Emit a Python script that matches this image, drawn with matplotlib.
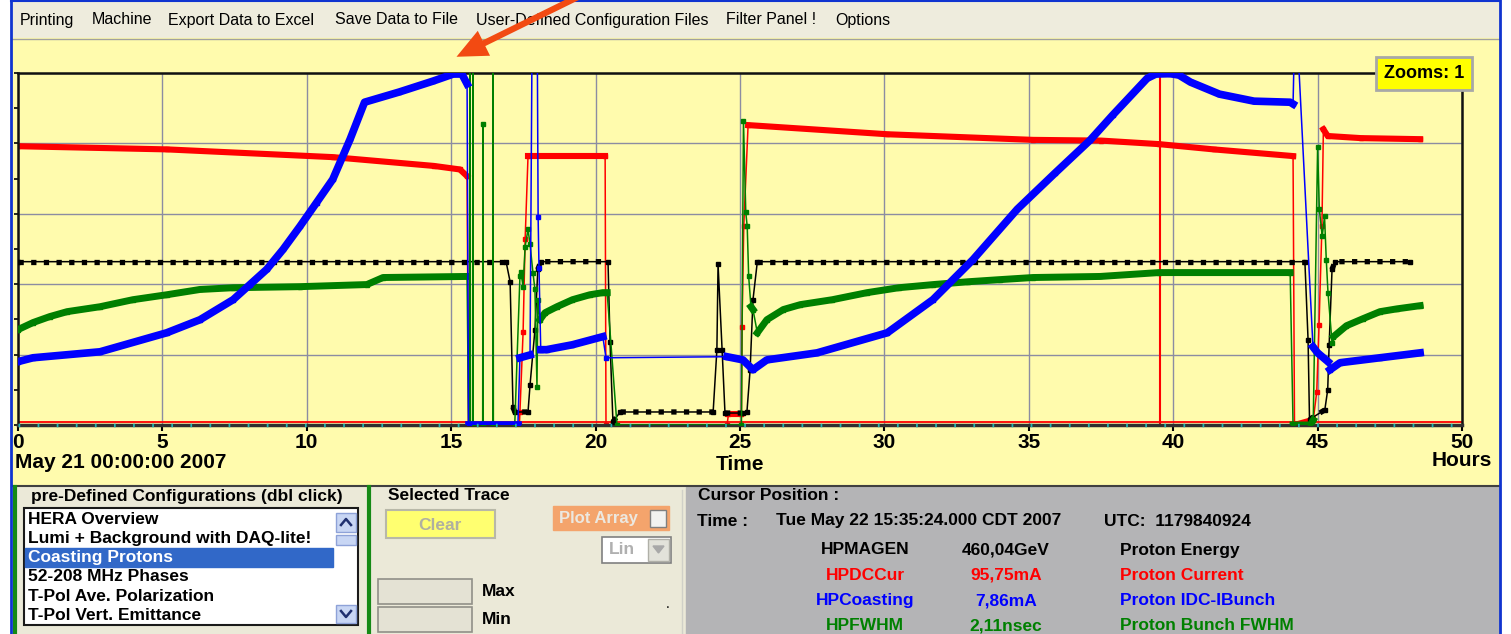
import numpy as np
import matplotlib
matplotlib.use('Agg')
import matplotlib.pyplot as plt
from matplotlib.patches import Rectangle, FancyArrowPatch

plt.rcParams['font.family'] = ['Liberation Sans', 'DejaVu Sans']

# traces: hours since May 21 00:00:00 2007, value in % of trace full scale
red_h = [0, 5.15, 10.9, 14.4, 15.3, 15.55, 15.6, 17.36, 17.38, 17.49, 17.56, 17.66,
         20.33, 20.36, 24.55, 24.6, 25.05, 25.07, 25.13, 25.28,
         30.1, 35.15, 37.5, 39.5, 41.4, 44.15, 44.2,
         44.85, 44.97, 45.05, 45.15, 45.2, 45.35, 46.5, 48.55]
red_v = [79.2, 78.3, 76.1, 73.6, 72.6, 70.7, 0, 0, 3.7, 26.5, 52.7, 76.4,
         76.4, 0, 0, 3.0, 3.0, 27.9, 56.4, 85.2,
         82.6, 81.0, 80.8, 79.8, 78.3, 76.4, 0,
         1.5, 9.4, 28.5, 56.4, 84.0, 82.1, 81.5, 81.2]
red_gaps = [(20.36, 24.55)]

blue_h = [0, 0.52, 2.84, 5.15, 6.3, 7.45, 8.03, 8.61, 9.18, 9.76, 10.34, 10.9, 11.5, 12.0,
          13.2, 14.37, 15.07, 15.37, 15.55, 15.6,
          17.31, 17.38, 17.73, 17.8, 17.98, 18.01, 18.04, 18.1, 18.3, 19.2, 20.25, 20.36, 24.55,
          25.1, 25.45, 25.93, 27.67, 30.1, 31.68, 33.07, 34.6, 35.9, 37.12, 37.9, 39.1, 39.4,
          39.9, 40.2, 40.6, 41.6, 42.8, 44.05, 44.15,
          44.2, 44.3, 44.84, 45.0, 45.36, 45.43, 45.78, 47.16, 48.55]
blue_v = [18.0, 19.1, 20.8, 26.2, 29.9, 35.6, 39.9, 44.2, 49.9, 56.4, 63.2, 69.8, 81.2, 91.7,
          94.6, 97.7, 99.7, 99.7, 96.9, 0,
          0, 19.1, 19.9, 110, 110, 59.0, 44.7, 21.4, 21.4, 22.8, 25.1, 19.1, 19.4,
          18.5, 15.7, 18.5, 20.5, 26.2, 35.6, 47.0, 61.3, 71.5, 80.9, 88.0, 98.5, 99.7,
          99.8, 99.4, 97.4, 94.0, 92.0, 91.7, 91.2,
          110, 110, 22.2, 20.5, 18.0, 15.7, 17.7, 19.1, 20.5]
blue_gaps = [(20.36, 24.55)]

black_h = [0, 16.9, 17.04, 17.14, 17.2, 17.66, 17.73, 17.9, 18.0, 18.1,
           20.43, 20.5, 20.6, 20.85, 24.07, 24.2, 24.24, 24.38, 24.48, 25.1,
           25.24, 25.35, 25.45, 25.6, 44.56, 44.67, 44.72, 44.8, 45.25, 45.35,
           45.4, 45.5, 45.6, 48.2]
black_v = [46.4, 46.4, 40.7, 5.1, 3.7, 3.7, 11.4, 27.1, 44.2, 46.4,
           46.4, 23.6, 0.9, 3.7, 3.7, 21.4, 45.6, 21.4, 3.4, 3.4,
           3.7, 15.7, 35.6, 46.4, 46.4, 24.2, 1.4, 2.0, 4.3, 10.0,
           22.8, 44.2, 46.4, 46.4]

green_h = [0, 0.52, 1.1, 1.7, 2.84, 3.98, 5.15, 6.3, 7.45, 9.76, 12.08, 12.64, 15.55, 15.6,
           15.64, 15.65, 15.66, 15.74, 15.75, 15.76, 16.09, 16.1, 16.11, 16.44, 16.45, 16.46,
           17.2, 17.38, 17.41, 17.49, 17.56, 17.66, 17.73, 17.83, 17.9, 17.97, 18.0, 18.07,
           18.25, 18.66, 19.2, 19.8, 20.25, 20.4, 20.74,
           25.05, 25.12, 25.2, 25.25, 25.3, 25.38, 25.45, 25.6, 25.93, 26.5, 27.09, 28.2,
           29.4, 30.5, 31.7, 32.9, 34.0, 35.15, 37.47, 39.5, 44.05, 44.15,
           44.75, 44.85, 45.0, 45.06, 45.16, 45.24, 45.3, 45.36, 45.5, 45.55, 46.0, 46.57,
           47.16, 47.75, 48.55]
green_v = [27.1, 29.1, 30.8, 32.2, 33.6, 35.6, 37.0, 38.5, 39.0, 39.3, 39.9, 41.9, 42.2, 0,
           0, 110, 0, 0, 110, 0, 0, 85.5, 0, 0, 110, 0,
           0, 42.2, 43.6, 39.3, 50.7, 55.6, 51.3, 43.3, 38.5, 10.8, 35.6, 29.9,
           31.9, 33.6, 35.6, 37.0, 37.6, 37.6, 0,
           0, 86.3, 60.4, 56.4, 42.2, 33.6, 32.8, 26.2, 29.9, 32.8, 34.2, 35.6,
           37.6, 39.0, 39.9, 40.7, 41.3, 41.9, 42.2, 43.3, 43.3, 0,
           0, 1.4, 78.9, 61.3, 53.6, 59.3, 47.0, 37.6, 23.4, 25.1, 28.2, 30.2,
           32.2, 33.0, 33.9]
green_gaps = [(20.74, 25.05)]

cursor_hour = 39.54
hour_ticks = list(range(0, 51, 5))

menu_items = ['Printing', 'Machine', 'Export Data to Excel', 'Save Data to File',
              'User-Defined Configuration Files', 'Filter Panel !', 'Options']
menu_x = [20, 92, 168, 335, 476, 726, 835]

configs = ['HERA Overview', 'Lumi + Background with DAQ-lite!', 'Coasting Protons',
           '52-208 MHz Phases', 'T-Pol Ave. Polarization', 'T-Pol Vert. Emittance']
selected_config = 2

cursor_names = ['HPMAGEN', 'HPDCCur', 'HPCoasting', 'HPFWHM']
cursor_values = ['460,04GeV', '95,75mA', '7,86mA', '2,11nsec']
cursor_desc = ['Proton Energy', 'Proton Current', 'Proton IDC-IBunch', 'Proton Bunch FWHM']
cursor_colors = ['black', '#ff0000', '#0000ff', '#008000']

W, H = 1511, 634
PLOT = (18, 73, 1462, 425)  # left, top, right, bottom in pixels
YELLOW = '#fffbad'
FS = 12.5  # panel text size

fig = plt.figure(figsize=(W / 100, H / 100), dpi=100)
fig.patch.set_facecolor('white')

gui = fig.add_axes([0, 0, 1, 1], zorder=0)
gui.set_xlim(0, W)
gui.set_ylim(H, 0)
gui.axis('off')

# window panels
gui.add_patch(Rectangle((12, 0), 1488, 38, color='#eeecdd'))
gui.add_patch(Rectangle((12, 38), 1488, 448, color=YELLOW))
gui.plot([12, 1500], [38.5, 38.5], color='#a0a0a0', lw=1)
gui.plot([12, 1500], [486, 486], color='#404040', lw=1.5)
gui.add_patch(Rectangle((14, 487), 356, 147, color='#ebe9d8'))
gui.add_patch(Rectangle((370, 487), 316, 147, color='#ebe9d8'))
gui.add_patch(Rectangle((686, 487), 814, 147, color='#b4b4b6'))
gui.plot([682, 682], [490, 634], color='#d0d0c8', lw=1)
for gx in (14.5, 368.5):
    gui.plot([gx, gx], [487, 634], color='#168a16', lw=3)
for bx in (11, 1500):
    gui.plot([bx, bx], [0, H], color='#1034d0', lw=2)
gui.plot([11, 1500], [0.5, 0.5], color='#1034d0', lw=1.5)

for label, x in zip(menu_items, menu_x):
    gui.text(x, 20, label, fontsize=11.5, va='center', ha='left')

# axis captions
gui.text(15, 462, 'May 21 00:00:00 2007', fontsize=15, fontweight='bold', va='center', ha='left')
gui.text(740, 464, 'Time', fontsize=15, fontweight='bold', va='center', ha='center')
gui.text(1462, 461, 'Hours', fontsize=15, fontweight='bold', va='center', ha='center')

# configuration list
gui.text(31, 496, 'pre-Defined Configurations (dbl click)', fontsize=FS,
         fontweight='bold', va='center', ha='left')
gui.add_patch(Rectangle((24, 508), 334, 117, facecolor='white', edgecolor='#1a1a1a', lw=1.5))
gui.add_patch(Rectangle((25, 548), 308, 19, color='#3168c8'))
for i, name in enumerate(configs):
    gui.text(28, 519 + i * 19.3, name, fontsize=FS, fontweight='bold', va='center',
             ha='left', color='white' if i == selected_config else 'black')
gui.add_patch(Rectangle((336, 513), 20, 19, facecolor='#c8d6f4', edgecolor='#8ea2d8', lw=1))
gui.add_patch(Rectangle((336, 535), 20, 10, facecolor='#c8d6f4', edgecolor='#8ea2d8', lw=1))
gui.add_patch(Rectangle((336, 605), 20, 18, facecolor='#c8d6f4', edgecolor='#8ea2d8', lw=1))
gui.plot([341, 346, 351], [525, 519, 525], color='#203070', lw=1.8)
gui.plot([341, 346, 351], [611, 617, 611], color='#203070', lw=1.8)

# selected trace controls
gui.text(388, 496, 'Selected Trace', fontsize=FS, fontweight='bold', va='center', ha='left')
gui.add_patch(Rectangle((386, 510), 109, 28, facecolor='#ffff70', edgecolor='#b8b8a8', lw=1.5))
gui.text(440, 525, 'Clear', fontsize=FS, fontweight='bold', color='#b0b0a0',
         va='center', ha='center')
gui.add_patch(Rectangle((553, 506), 116, 24, color='#f4a46c'))
gui.text(598, 518, 'Plot Array', fontsize=12, fontweight='bold', color='#ece8e0',
         va='center', ha='center')
gui.add_patch(Rectangle((650, 510), 16, 17, facecolor='#f2f2f0', edgecolor='#808080', lw=1))
gui.add_patch(Rectangle((602, 537), 69, 26, facecolor='white', edgecolor='#808080', lw=1.2))
gui.text(622, 550, 'Lin', fontsize=FS, fontweight='bold', color='#b0b0b0',
         va='center', ha='center')
gui.add_patch(Rectangle((648, 539), 21, 22, facecolor='#e2e2da', edgecolor='#b0b0a8', lw=1))
gui.fill([653, 664, 658.5], [546, 546, 553], color='#a8a8a8')
for y0, lab in ((579, 'Max'), (607, 'Min')):
    gui.add_patch(Rectangle((378, y0), 94, 25, facecolor='#e4e2d4', edgecolor='#909088', lw=1.2))
    gui.text(482, y0 + 13, lab, fontsize=FS, fontweight='bold', va='center', ha='left')
gui.text(668, 604, '.', fontsize=10, va='center', ha='center')

# cursor readout
gui.text(698, 496, 'Cursor Position :', fontsize=FS, fontweight='bold', va='center', ha='left')
gui.text(697, 521, 'Time :', fontsize=FS, fontweight='bold', va='center', ha='left')
gui.text(776, 521, 'Tue May 22 15:35:24.000 CDT 2007', fontsize=FS, fontweight='bold',
         va='center', ha='left')
gui.text(1104, 521, 'UTC:  1179840924', fontsize=FS, fontweight='bold', va='center', ha='left')
for i in range(4):
    y = 550 + i * 25.3
    c = cursor_colors[i]
    gui.text(865, y, cursor_names[i], fontsize=FS, fontweight='bold', color=c,
             va='center', ha='center')
    gui.text(1006, y, cursor_values[i], fontsize=FS, fontweight='bold', color=c,
             va='center', ha='center')
    gui.text(1120, y, cursor_desc[i], fontsize=FS, fontweight='bold', color=c,
             va='center', ha='left')

# chart
l, t, r, b = PLOT
ax = fig.add_axes([l / W, (H - b) / H, (r - l) / W, (b - t) / H], zorder=1)
ax.set_facecolor('none')
ax.set_xlim(0, 50)
ax.set_ylim(0, 100)
ax.set_xticks(hour_ticks)
ax.set_yticks([0, 20, 40, 60, 80, 100])
ax.set_yticks(np.arange(0, 101, 10), minor=True)
ax.set_yticklabels([])
ax.grid(True, color='#8c8ca2', lw=1)
ax.set_axisbelow(True)
ax.tick_params(axis='x', direction='out', length=4, width=1.5, pad=1.5, labelsize=15)
ax.tick_params(axis='y', which='both', direction='out', length=3, width=1.2)
for lab in ax.get_xticklabels():
    lab.set_fontweight('bold')
for side in ('top', 'left', 'right'):
    ax.spines[side].set_color('#111111')
    ax.spines[side].set_linewidth(1.8)
ax.spines['bottom'].set_color('#303030')
ax.spines['bottom'].set_linewidth(2.5)

px_per_h = (r - l) / 50
px_per_v = (b - t) / 100


def draw_trace(h, v, color, lw_thick, z, gaps=(), dashed=False):
    h = np.asarray(h, float)
    v = np.asarray(v, float)
    ax.plot(h, v, color=color, lw=1.1, zorder=z)
    dh = np.diff(h)
    dv = np.abs(np.diff(v))
    dense = dv * px_per_v <= 2.5 * dh * px_per_h + 1.0
    for a, bb in gaps:
        dense &= ~((h[:-1] >= a - 1e-9) & (h[1:] <= bb + 1e-9))
    i = 0
    while i < len(dense):
        if not dense[i]:
            i += 1
            continue
        j = i
        while j < len(dense) and dense[j]:
            j += 1
        if dashed:
            ax.plot(h[i:j + 1], v[i:j + 1], color=color, lw=lw_thick, ls=(0, (1, 1.4)),
                    dash_capstyle='butt', zorder=z)
        else:
            ax.plot(h[i:j + 1], v[i:j + 1], color=color, lw=lw_thick,
                    solid_capstyle='projecting', zorder=z)
        i = j
    ax.plot(h, v, ls='none', marker='s', ms=3.5, color=color, zorder=z)


ax.axvline(cursor_hour, color='#ff0000', lw=1.5, zorder=1.5)
ax.axhline(0.8, color='#ff0000', lw=1.3, zorder=1.6)
ax.plot([0, 50], [0, 0], color='#20b4b4', lw=2.5, ls=(0, (0.5, 5)), zorder=6, clip_on=False)

draw_trace(red_h, red_v, '#ff0000', 4.4, 2, gaps=red_gaps)
draw_trace(black_h, black_v, '#000000', 3.8, 3, dashed=True)
draw_trace(green_h, green_v, '#007f00', 5.0, 4, gaps=green_gaps)
draw_trace(blue_h, blue_v, '#0000ff', 5.5, 5, gaps=blue_gaps)

# overlay: zoom counter and pointer arrow
top = fig.add_axes([0, 0, 1, 1], zorder=10)
top.set_xlim(0, W)
top.set_ylim(H, 0)
top.axis('off')
top.add_patch(Rectangle((1376, 57), 96, 33, facecolor='#ffff00', edgecolor='#a8a8a8', lw=2))
top.text(1424, 74, 'Zooms: 1', fontsize=13, fontweight='bold', va='center', ha='center')
top.add_patch(FancyArrowPatch((584, -6), (454, 58),
                              arrowstyle='simple,head_width=2.0,head_length=2.2,tail_width=0.45',
                              mutation_scale=10, color='#f24a12', lw=0))

fig.savefig('out.png', dpi=100)
